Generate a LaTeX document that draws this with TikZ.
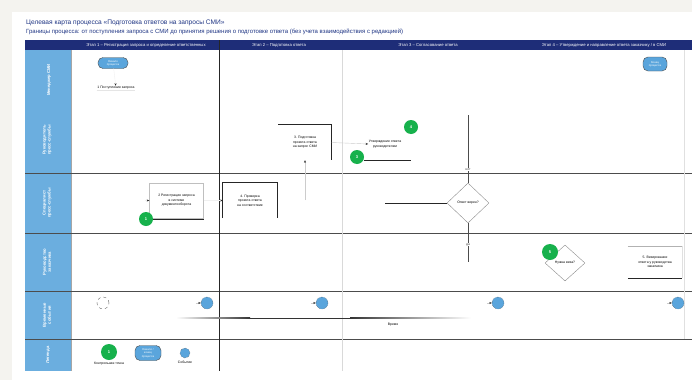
\documentclass[tikz,border=0pt]{standalone}
\usepackage{fontspec}
\setmainfont{Liberation Sans}
\usepackage{xcolor}
\usetikzlibrary{positioning,shapes.geometric,arrows.meta}

\definecolor{azulnoche}{HTML}{1E2D78}
\definecolor{azulrol}{HTML}{6BAEDF}
\definecolor{azultitulo}{HTML}{1F3584}
\definecolor{verdecp}{HTML}{17B14C}
\definecolor{azulevento}{HTML}{5AA5DC}
\definecolor{fondo}{HTML}{F4F3EF}

\begin{document}
\begin{tikzpicture}[x=1pt,y=-1pt,
    letra/.style={font=\fontsize{3.4}{4.4}\selectfont, align=center, inner sep=0.5pt},
    titulo/.style={text=azultitulo, font=\fontsize{6.2}{7}\selectfont, inner sep=0pt},
    etapa/.style={text=white, font=\fontsize{4.2}{5}\selectfont, inner sep=0pt},
    rol/.style={rotate=90, text=white, font=\fontsize{4.2}{5}\selectfont\bfseries, align=center},
    tarea/.style={letra, minimum width=54pt, minimum height=35pt},
    rombo/.style={diamond, draw=black!45, fill=white, inner sep=0pt, letra},
    hito/.style={circle, fill=verdecp, minimum size=14pt, inner sep=0pt, text=white, font=\fontsize{4}{4}\selectfont\bfseries},
    evento/.style={circle, fill=azulevento, draw=black!70, densely dotted, minimum size=11pt, inner sep=0pt},
    extremo/.style={rounded corners=5pt, fill=azulevento, draw=black!70, minimum width=30pt, minimum height=11pt, inner sep=0pt, text=white, align=center, font=\fontsize{2.8}{3.3}\selectfont},
    flujo/.style={draw=black!20, -{Stealth[length=2.5pt,width=2pt,black!85]}},
    toque/.style={draw=black!6, -{Stealth[length=2.5pt,width=2pt,black!85]}},
    borde/.style={black!85, line width=0.8pt}]

    % Límites de la hoja
    \useasboundingbox (0,0) rectangle (692,380);
    \fill[fondo] (0,0) rectangle (692,380);
    \fill[white] (12,12) rectangle (692,380);

    % Parámetros de la tabla de carriles
    \def\xizq{25}
    \def\xcol{71}
    \def\xder{692}

    % Títulos
    \node[titulo, font=\fontsize{6.6}{7}\selectfont, anchor=west] (titulo) at (26,23) {Целевая карта процесса «Подготовка ответов на запросы СМИ»};
    \node[titulo, font=\fontsize{6}{7}\selectfont, anchor=west] (limites) at (26,32) {Границы процесса: от поступления запроса с СМИ до принятия решения о подготовке ответа (без учета взаимодействия с редакцией)};

    % Cabecera de etapas
    \fill[azulnoche] (\xizq,40) rectangle (\xder,50);
    \node[etapa] (etapa1) at (146,45) {Этап 1 – Регистрация запроса и определение ответственных};
    \node[etapa] (etapa2) at (279,45) {Этап 2 – Подготовка ответа};
    \node[etapa] (etapa3) at (428,45) {Этап 3 – Согласование ответа};
    \node[etapa] (etapa4) at (604,45) {Этап 4 – Утверждение и направление ответа заказчику / в СМИ};

    % Columna de roles
    \fill[azulrol] (\xizq,50) rectangle (\xcol,371);
    \draw[black!35] (\xcol,50) -- (\xcol,371);

    % Separadores de carriles
    \foreach \y in {173,233,291,339}
        \draw[black!70, line width=0.8pt] (\xizq,\y) -- (\xder,\y);

    % Separadores de etapas
    \draw[borde] (219,40) -- (219,371);
    \draw[black!15] (342,50) -- (342,371);
    \draw[black!12] (684,50) -- (684,339);

    % Roles
    \node[rol] (rol1) at (49,80) {Менеджер СМИ};
    \node[rol] (rol2) at (47,140) {Руководитель\\пресс-службы};
    \node[rol] (rol3) at (47,203) {Специалист\\пресс-службы};
    \node[rol] (rol4) at (47,262) {Руководство\\заказчика};
    \node[rol] (rol5) at (47,315) {Временные\\события};
    \node[rol] (rol6) at (48,355) {Легенда};

    % Etapa 1
    \node[extremo] (inicio) at (113,63) {Начало\\процесса};
    \node[letra] (t1) at (116,88) {1 Поступление запроса};
    \draw[black!10] (t1.south west) -- (t1.south east);
    \draw[toque] (inicio) -- (t1);
    \node[tarea, draw=black!25] (t2) at (176.5,200.5) {2 Регистрация запроса\\в системе\\документооборота};
    \node[hito] (cp1) at (146,219) {1};
    \draw[borde] (cp1.east) -- (cp1.east -| t2.south east);
    \draw[toque] ([xshift=-4pt]t2.west) -- (t2.west);

    % Etapa 2
    \node[tarea] (t4) at (250,200.5) {4. Проверка\\проекта ответа\\на соответствие};
    \draw[borde] (t4.south west) -- (t4.north west) -- (t4.north east) -- (t4.south east);
    \draw[toque] (t2) -- (t4);
    \node[tarea, minimum width=53pt] (t3) at (305,142.5) {3. Подготовка\\проекта ответа\\на запрос СМИ};
    \draw[borde] (t3.north west) -- (t3.north east) -- (t3.south east);
    \coordinate (sube) at (305,200);
    \draw[flujo] (sube) -- (t3.south);

    % Etapa 3
    \node[letra] (aprueba) at (385,144) {Утверждение ответа\\руководителем};
    \draw[flujo] (t3.east) -- (aprueba.west);
    \node[hito] (cp4) at (411,127) {4};
    \node[hito] (cp3) at (357,157) {3};
    \draw[borde] (cp3.-25) -- (cp3.-25 -| cp4);
    \node[rombo, minimum width=42pt, minimum height=40pt] (r1) at (468,203) {Ответ верен?};
    \coordinate (baja) at (468,115);
    \coordinate (entra) at (385,203);
    \coordinate (sale) at (468,262);
    \draw[black!70, line width=0.7pt] (baja) -- (r1.north) node[pos=0.8, letra, fill=white] {нет};
    \draw[black!85, line width=0.7pt] (entra) -- (r1.west);
    \draw[black!70, line width=0.7pt] (r1.south) -- (sale) node[pos=0.55, letra, fill=white] {да};

    % Etapa 4
    \node[extremo, minimum width=24pt, minimum height=14pt] (fin) at (655,64) {Конец\\процесса};
    \node[rombo, minimum width=40pt, minimum height=36pt] (r2) at (565,263) {Нужна виза?};
    \node[hito, minimum size=16pt] (cp5) at (550,252) {5};
    \node[tarea, minimum height=32pt] (t5) at (655,262) {5. Визирование\\ответа у руководства\\заказчика};
    \draw[black!30] (t5.north west) -- (t5.north east);
    \draw[black!12] (t5.north east) -- (t5.south east);
    \draw[borde] (t5.south west) -- (t5.south east);

    % Eventos temporales
    \node[circle, draw=black!60, dashed, minimum size=12pt] (ev0) at (103,303) {};
    \foreach \n/\x in {1/207,2/322,3/498,4/678} {
        \node[evento, minimum size=12pt] (ev\n) at (\x,303) {};
        \draw[flujo] ([xshift=-5pt]ev\n.west) -- (ev\n.west);
    }
    \shade[left color=white, right color=black!80] (176,317.5) rectangle (250,318.7);
    \fill[black!80] (250,317.5) rectangle (350,318.7);
    \shade[left color=black!80, right color=white] (350,317.5) rectangle (471,318.7);
    \node[letra] (tiempo) at (393,325) {Время};

    % Leyenda
    \node[hito, minimum size=16pt] (cpL) at (109,352) {1};
    \node[letra, below=1pt of cpL] (cpLtxt) {Контрольная точка};
    \node[extremo, minimum width=26pt, minimum height=15pt] (extL) at (148,353) {Начало /\\конец\\процесса};
    \node[evento, minimum size=10pt] (evL) at (185,353) {};
    \node[letra, below=2pt of evL] (evLtxt) {Событие};

\end{tikzpicture}
\end{document}
